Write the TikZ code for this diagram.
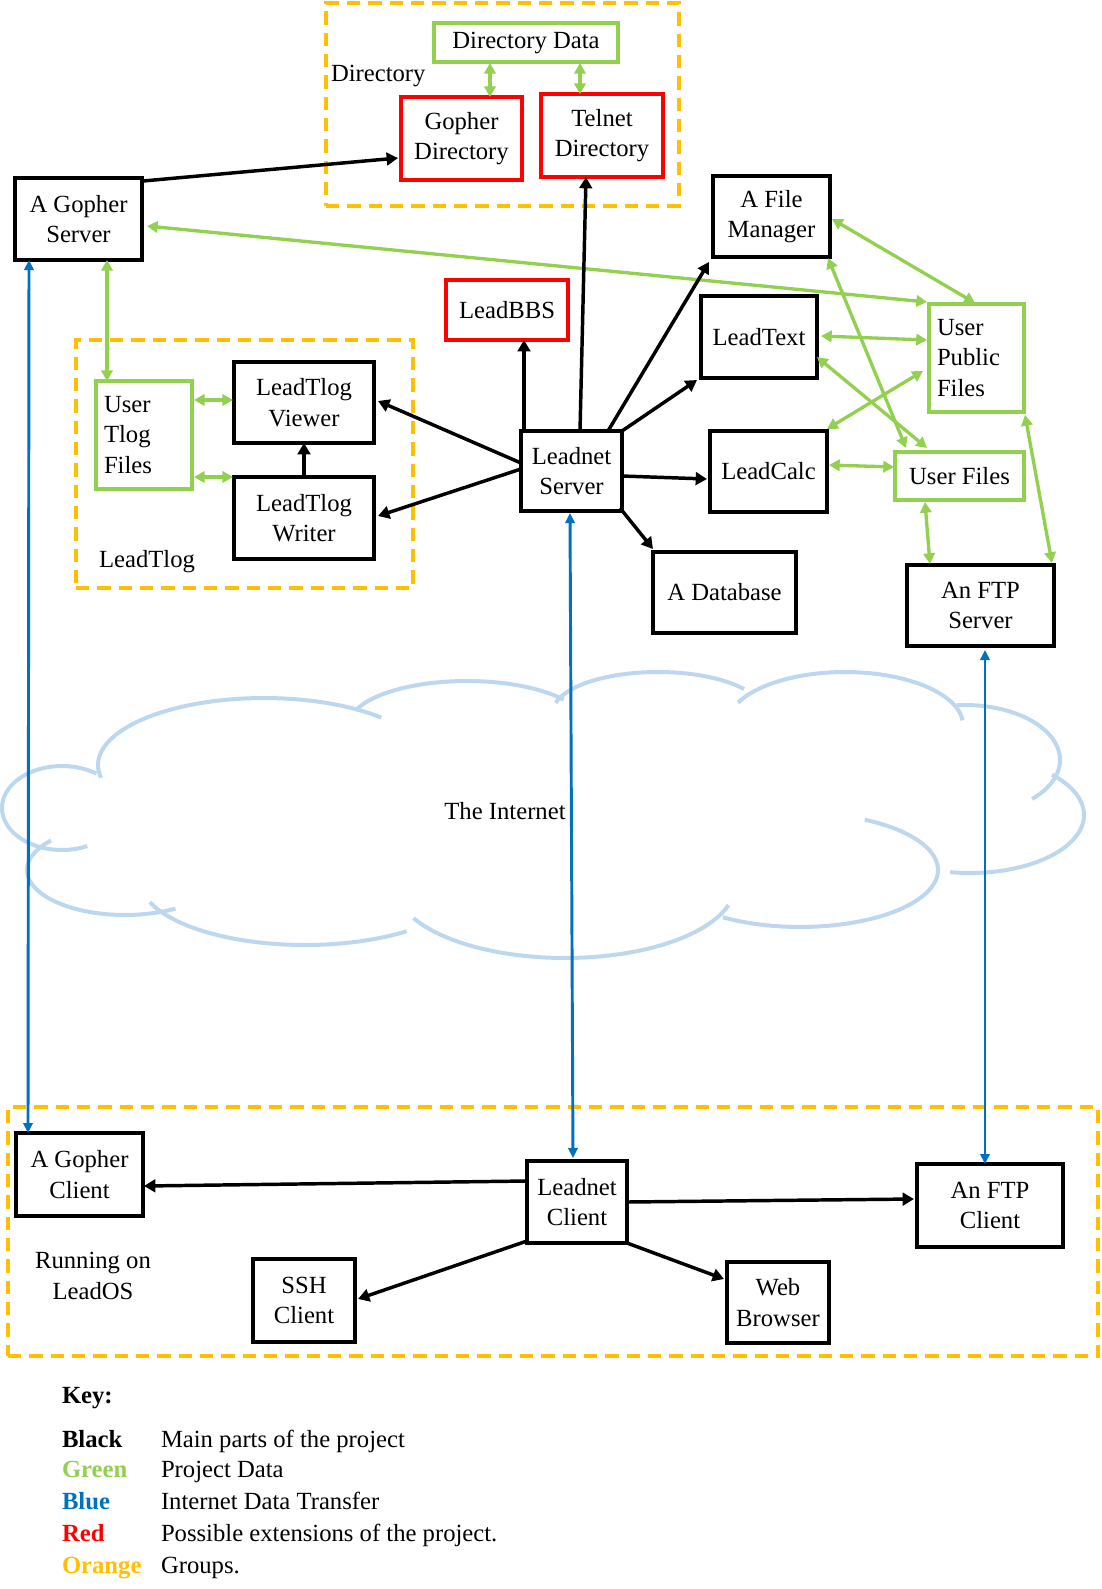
\documentclass[tikz,border=0pt]{standalone}
\usepackage{fontspec}
\setmainfont{Liberation Serif}
\usetikzlibrary{calc,arrows.meta}
\definecolor{gold}{HTML}{FFC000}
\definecolor{grn}{HTML}{92D050}
\definecolor{blu}{HTML}{0070C0}
\definecolor{rd}{HTML}{FF0000}
\definecolor{cloudc}{HTML}{BDD7EE}
\newcommand\dfont{\fontsize{18.5}{23}\selectfont}
\begin{document}
\begin{tikzpicture}[x=0.75pt,y=-0.75pt,
  font=\dfont,
  sz/.style 2 args={minimum width=#1*0.75pt, minimum height=#2*0.75pt},
  nb/.style={anchor=north west, inner sep=0pt, outer sep=0pt, align=center},
  blk/.style={nb, draw=black, line width=3pt},
  gbox/.style={nb, draw=grn, line width=2.6pt},
  rbox/.style={nb, draw=rd, line width=2.6pt},
  grp/.style={nb, draw=gold, line width=3pt, dash pattern=on 10pt off 6pt},
  barr/.style={line width=2.6pt, -{Triangle[length=8.5pt,width=9.5pt]}},
  garr/.style={draw=grn, line width=2.5pt, {Triangle[length=8pt,width=8.5pt]}-{Triangle[length=8pt,width=8.5pt]}},
  blarr/.style={draw=blu, line width=2.2pt, {Triangle[length=7.5pt,width=7pt]}-{Triangle[length=7.5pt,width=7pt]}},
  cl/.style={draw=cloudc, line width=3pt},
  lbl/.style={inner sep=0pt, outer sep=0pt},
]
\useasboundingbox (0,0) rectangle (1102,1589);

% cloud
\foreach \cx/\cy/\rx/\ry/\a/\b in {62/808/60/42/-295/-55, 264/765/166/67/-191/-45, 467/725/118/44/-160/-35, 658/712/105/40/-167/-35, 845/725/118/53/-155/-5, 965/760/95/55/-95/45, 970/815/114/58/-44/100, 800/870/138/57/-62/124, 565/885/170/73/16/153, 305/880/165/65/52/160, 125/870/98/45/59/221}
  \draw[cl] plot[domain=\a:\b, samples=50, variable=\t] ({\cx+\rx*cos(\t)},{\cy+\ry*sin(\t)});
\node[lbl, anchor=base] (net) at (505,819) {The Internet};

% groups
\node[grp, sz={353}{203}] (dirg) at (326,3) {};
\node[grp, sz={337}{248}] (tlogg) at (76,340) {};
\node[grp, sz={1090}{249}] (osg) at (8,1107) {};
\node[lbl, anchor=base west] (dirl) at (331,81) {Directory};
\node[lbl, anchor=base] (tlogl) at (147,567) {LeadTlog};
\node[lbl, align=center] (osl) at (93,1276) {Running on\\LeadOS};

% nodes
\node[blk, sz={127}{82}] (gs) at (15,178) {A Gopher\\Server};
\node[gbox, sz={184}{39}] (dd) at (434,23) {Directory Data};
\node[rbox, sz={121}{83}] (gd) at (401,97) {Gopher\\Directory};
\node[rbox, sz={122}{83}] (td) at (541,94) {Telnet\\Directory};
\node[blk, sz={117}{81}] (fm) at (713,176) {A File\\Manager};
\node[rbox, sz={122}{60}] (bbs) at (446,280) {LeadBBS};
\node[blk, sz={116}{82}] (lt) at (701,296) {LeadText};
\node[gbox, sz={95}{108}, align=left, text width=59.25pt, inner xsep=6pt] (upf) at (929,304) {User\\Public\\Files};
\node[blk, sz={101}{80}] (ls) at (521,431) {Leadnet\\Server};
\node[blk, sz={117}{81}] (lc) at (710,431) {LeadCalc};
\node[gbox, sz={129}{48}] (uf) at (895,452) {User Files};
\node[blk, sz={143}{81}] (db) at (653,552) {A Database};
\node[blk, sz={147}{81}] (ftps) at (907,565) {An FTP\\Server};
\node[gbox, sz={96}{108}, align=left, text width=60pt, inner xsep=6pt] (utf) at (96,381) {User\\Tlog\\Files};
\node[blk, sz={140}{81}] (ltv) at (234,362) {LeadTlog\\Viewer};
\node[blk, sz={140}{82}] (ltw) at (234,477) {LeadTlog\\Writer};
\node[blk, sz={127}{83}] (gc) at (16,1133) {A Gopher\\Client};
\node[blk, sz={100}{82}] (lcl) at (527,1161) {Leadnet\\Client};
\node[blk, sz={146}{83}] (ftpc) at (917,1164) {An FTP\\Client};
\node[blk, sz={102}{83}] (ssh) at (253,1259) {SSH\\Client};
\node[blk, sz={102}{81}] (wb) at (727,1262) {Web\\Browser};

% green connectors
\draw[garr] ($(dd.south west)+(56,1)$) -- ($(gd.north west)+(89,0)$);
\draw[garr] ($(dd.south west)+(146,1)$) -- ($(td.north west)+(39,0)$);
\draw[garr] ($(gs.north east)+(5,48)$) -- ($(upf.north west)+(-2,-2)$);
\draw[garr] ($(gs.south west)+(92,0)$) -- ($(utf.north west)+(11,0)$);
\draw[garr] ($(utf.north east)+(2,19)$) -- ($(ltv.north west)+(-1,38)$);
\draw[garr] ($(utf.north east)+(2,96)$) -- ($(ltw.north west)+(-1,0)$);
\draw[garr] ($(fm.north east)+(2,43)$) -- ($(upf.north west)+(46,-1)$);
\draw[garr] ($(lt.north east)+(4,40)$) -- ($(upf.north west)+(-2,36)$);
\draw[garr] ($(lt.north east)+(0,61)$) -- ($(uf.north west)+(32,-4)$);
\draw[garr] ($(fm.south east)+(-2,1)$) -- ($(uf.north west)+(11,-4)$);
\draw[garr] ($(lc.north east)+(0,-2)$) -- ($(upf.north west)+(-6,67)$);
\draw[garr] ($(lc.north east)+(2,34)$) -- ($(uf.north west)+(-1,15)$);
\draw[garr] ($(uf.south west)+(30,2)$) -- ($(ftps.north west)+(23,-1)$);
\draw[garr] ($(upf.south east)+(1,3)$) -- ($(ftps.north east)+(-2,-2)$);

% black connectors
\draw[barr] ($(gs.north west)+(128,3)$) -- ($(gd.north west)+(-3,61)$);
\draw[barr] ($(ls.north west)+(59,0)$) -- ($(td.south west)+(45,0)$);
\draw[barr] ($(ls.north west)+(3,0)$) -- ($(bbs.south west)+(78,0)$);
\draw[barr] ($(ls.north west)+(87,0)$) -- ($(fm.south west)+(-4,5)$);
\draw[barr] (ls.north east) -- ($(lt.south west)+(-4,2)$);
\draw[barr] ($(ls.north east)+(0,45)$) -- ($(lc.north west)+(-3,48)$);
\draw[barr] ($(ls.south east)+(-2,-3)$) -- ($(db.north west)+(0,-3)$);
\draw[barr] ($(ls.north west)+(0,32)$) -- ($(ltv.north east)+(4,39)$);
\draw[barr] ($(ls.north west)+(0,38)$) -- ($(ltw.north east)+(4,39)$);
\draw[barr] (ltw.north) -- (ltv.south);
\draw[barr] ($(lcl.north west)+(0,20)$) -- ($(gc.north east)+(1,53)$);
\draw[barr] ($(lcl.north east)+(0,41)$) -- ($(ftpc.north west)+(-3,35)$);
\draw[barr] ($(lcl.south west)+(0,-2)$) -- ($(ssh.north east)+(3,40)$);
\draw[barr] (lcl.south east) -- ($(wb.north west)+(-3,17)$);

% blue connectors
\draw[blarr] ($(gs.south west)+(14,0)$) -- ($(gc.north west)+(12,0)$);
\draw[blarr] ($(ls.south west)+(49,2)$) -- ($(lcl.north west)+(46,-3)$);
\draw[blarr] ($(ftps.south west)+(78,4)$) -- ($(ftpc.north west)+(68,0)$);

% key
\node[lbl, anchor=base west, font=\dfont\bfseries] (key) at (62,1403) {Key:};
\node[lbl, anchor=base west, font=\dfont\bfseries] (kb) at (62,1447) {Black};
\node[lbl, anchor=base west, font=\dfont\bfseries, text=grn] (kg) at (62,1477) {Green};
\node[lbl, anchor=base west, font=\dfont\bfseries, text=blu] (kbl) at (62,1509) {Blue};
\node[lbl, anchor=base west, font=\dfont\bfseries, text=rd] (kr) at (62,1541) {Red};
\node[lbl, anchor=base west, font=\dfont\bfseries, text=gold] (ko) at (62,1573) {Orange};
\node[lbl, anchor=base west] (kbd) at (161,1447) {Main parts of the project};
\node[lbl, anchor=base west] (kgd) at (161,1477) {Project Data};
\node[lbl, anchor=base west] (kbld) at (161,1509) {Internet Data Transfer};
\node[lbl, anchor=base west] (krd) at (161,1541) {Possible extensions of the project.};
\node[lbl, anchor=base west] (kod) at (161,1573) {Groups.};
\end{tikzpicture}
\end{document}
